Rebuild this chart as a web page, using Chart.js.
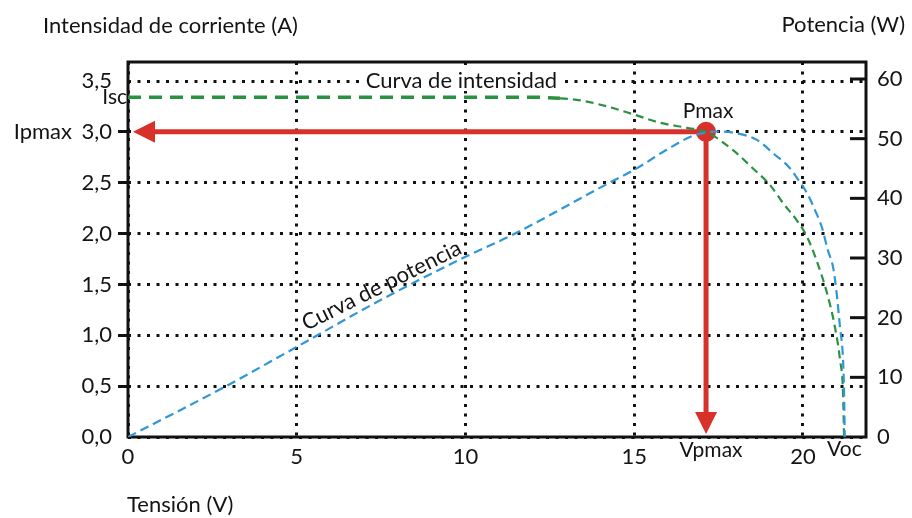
<!DOCTYPE html>
<html><head><meta charset="utf-8">
<script src="https://cdn.jsdelivr.net/npm/chart.js@4.4.1/dist/chart.umd.min.js"></script>
<style>html,body{margin:0;padding:0;background:#fff;}#wrap{width:912px;height:518px;}</style>
</head><body><div id="wrap"><canvas id="c" width="912" height="518"></canvas></div>
<script>
// ---- data ----
const V_CURRENT = [0, 2, 4, 6, 8, 10, 12, 12.8, 13.4, 14.2, 15, 15.76, 16.56, 17.13, 17.93, 18.52, 19.02, 19.41, 19.82, 20.12, 20.4, 20.71, 20.95, 21.1, 21.19, 21.22];
const I_CURRENT = [3.34, 3.34, 3.34, 3.34, 3.34, 3.34, 3.34, 3.33, 3.31, 3.25, 3.17, 3.09, 3.04, 3.0, 2.82, 2.64, 2.48, 2.30, 2.13, 1.97, 1.74, 1.42, 1.08, 0.76, 0.43, 0];
const V_POWER = [0, 2.8, 5, 7.5, 10, 11.4, 14.26, 15.1, 15.95, 16.8, 17.5, 18.04, 18.64, 19.11, 19.61, 19.91, 20.12, 20.36, 20.56, 20.74, 20.9, 21.0, 21.1, 21.19, 21.22, 21.24];
const P_POWER = [0, 8.2, 15.1, 23.0, 30.2, 33.9, 42.6, 45.1, 48.1, 50.6, 51.2, 50.9, 49.8, 47.6, 45.1, 42.7, 40.9, 38.0, 35.2, 31.3, 28.3, 24.1, 18.4, 12.9, 7.4, 0];
const PMAX = [17.13, 3.0];      // Vpmax, Ipmax
const ISC = 3.34;
const VOC = 21.2;
const X_TICKS = [0, 5, 10, 15, 20];
const Y_TICK_STEP = 0.5;
const Y1_TICK_STEP = 10;
const LABELS = {
  yTitle: 'Intensidad de corriente (A)',
  y1Title: 'Potencia (W)',
  xTitle: 'Tensión (V)',
  iCurve: 'Curva de intensidad',
  pCurve: 'Curva de potencia',
  pmax: 'Pmax', ipmax: 'Ipmax', isc: 'Isc', vpmax: 'Vpmax', voc: 'Voc'
};

const GREEN = '#2b9142', BLUE = '#2f97d6', RED = '#d8302a', INK = '#141414';
const FONT = 'Lato, "Open Sans", sans-serif';
const fnt = (s, w) => (w || 'normal') + ' ' + s + 'px ' + FONT;

const annot = {
  id: 'annot',
  beforeDatasetsDraw(chart) {
    const {ctx, chartArea: a, scales: {x, y, y1}} = chart;
    ctx.save();
    // frame
    ctx.strokeStyle = '#111'; ctx.lineWidth = 3;
    ctx.strokeRect(a.left, a.top, a.right - a.left, a.bottom - a.top);
    // inward ticks on right axis
    y1.ticks.forEach(t => {
      if (t.value === 0) return;
      const py = y1.getPixelForValue(t.value);
      ctx.beginPath(); ctx.moveTo(a.right - 16, py); ctx.lineTo(a.right, py); ctx.stroke();
    });
    // red arrows
    const px = x.getPixelForValue(PMAX[0]), py = y.getPixelForValue(PMAX[1]);
    const x0 = x.getPixelForValue(0), y0 = y.getPixelForValue(0);
    ctx.strokeStyle = RED; ctx.fillStyle = RED; ctx.lineWidth = 5;
    const head = 22, half = 11;
    const tipX = x0 + 5;
    ctx.beginPath(); ctx.moveTo(px, py); ctx.lineTo(tipX + head - 2, py); ctx.stroke();
    ctx.beginPath(); ctx.moveTo(tipX, py); ctx.lineTo(tipX + head, py - half); ctx.lineTo(tipX + head, py + half); ctx.closePath(); ctx.fill();
    const tipY = y0 - 3;
    ctx.beginPath(); ctx.moveTo(px, py); ctx.lineTo(px, tipY - head + 2); ctx.stroke();
    ctx.beginPath(); ctx.moveTo(px, tipY); ctx.lineTo(px - half, tipY - head); ctx.lineTo(px + half, tipY - head); ctx.closePath(); ctx.fill();
    ctx.restore();
  },
  afterDatasetsDraw(chart) {
    const {ctx, scales: {x, y, y1}} = chart;
    ctx.save();
    ctx.fillStyle = INK;
    // Curva de intensidad (white background over gridline)
    ctx.font = fnt(22);
    const cx = x.getPixelForValue(9.88), cy = y.getPixelForValue(3.5);
    const w = ctx.measureText(LABELS.iCurve).width;
    ctx.fillStyle = '#fff'; ctx.fillRect(cx - w / 2 - 4, cy - 10, w + 8, 20);
    ctx.fillStyle = INK; ctx.textAlign = 'center'; ctx.textBaseline = 'middle';
    ctx.fillText(LABELS.iCurve, cx, cy);
    // Curva de potencia (rotated)
    const rx = x.getPixelForValue(7.61), ry = y1.getPixelForValue(24.3);
    ctx.save(); ctx.translate(rx, ry); ctx.rotate(-26.5 * Math.PI / 180);
    ctx.textBaseline = 'alphabetic'; ctx.fillText(LABELS.pCurve, 0, 0); ctx.restore();
    // Pmax
    const px = x.getPixelForValue(PMAX[0]), py = y.getPixelForValue(PMAX[1]);
    const x0 = x.getPixelForValue(0), y0 = y.getPixelForValue(0);
    ctx.font = fnt(21); ctx.textAlign = 'center'; ctx.textBaseline = 'alphabetic';
    ctx.fillText(LABELS.pmax, px + 2, py - 14);
    // left labels
    ctx.font = fnt(22); ctx.textAlign = 'right'; ctx.textBaseline = 'middle';
    ctx.fillText(LABELS.ipmax, x0 - 56, py);
    ctx.font = fnt(21);
    ctx.fillText(LABELS.isc, x0 - 1, y.getPixelForValue(ISC));
    // bottom labels
    ctx.textAlign = 'center';
    ctx.fillText(LABELS.vpmax, px + 5, y0 + 13);
    ctx.fillText(LABELS.voc, x.getPixelForValue(VOC) + 1, y0 + 12);
    ctx.restore();
  },
  afterDraw(chart) {
    const {ctx} = chart;
    ctx.save(); ctx.fillStyle = INK; ctx.font = fnt(22); ctx.textBaseline = 'alphabetic';
    ctx.textAlign = 'left'; ctx.fillText(LABELS.yTitle, 43, 33);
    ctx.textAlign = 'right'; ctx.fillText(LABELS.y1Title, 905, 32);
    ctx.textAlign = 'left'; ctx.textBaseline = 'middle'; ctx.fillText(LABELS.xTitle, 127, 505);
    ctx.restore();
  }
};

const currentPts = V_CURRENT.map((v, i) => ({x: v, y: I_CURRENT[i]}));
const powerPts = V_POWER.map((v, i) => ({x: v, y: P_POWER[i]}));
const dash = [3, 6.5];
const comma = v => v.toFixed(1).replace('.', ',');

new Chart(document.getElementById('c'), {
  type: 'line',
  data: {
    datasets: [
      {
        data: currentPts, yAxisID: 'y', borderColor: GREEN, borderWidth: 2.2,
        borderDash: [8, 5], pointRadius: 0, cubicInterpolationMode: 'monotone', order: 2,
        segment: {
          borderWidth: c => V_CURRENT[c.p0DataIndex] < 12.5 ? 3.5 : 2.2,
          borderDash: c => V_CURRENT[c.p0DataIndex] < 12.5 ? [13, 8] : [8, 5]
        }
      },
      {
        data: powerPts, yAxisID: 'y1', borderColor: BLUE, borderWidth: 2.2,
        borderDash: [9, 5], pointRadius: 0, cubicInterpolationMode: 'monotone', order: 1
      },
      {
        data: [{x: PMAX[0], y: PMAX[1]}], yAxisID: 'y', showLine: false,
        pointRadius: 10, pointBackgroundColor: RED, pointBorderColor: RED, pointBorderWidth: 0, order: 10
      }
    ]
  },
  options: {
    responsive: false, animation: false, devicePixelRatio: 1,
    layout: {padding: {top: 62, left: 0, right: 0, bottom: 0}},
    plugins: {legend: {display: false}, tooltip: {enabled: false}},
    scales: {
      x: {
        type: 'linear', min: 0, max: 21.87,
        afterBuildTicks: s => { s.ticks = X_TICKS.map(v => ({value: v})); },
        afterFit: s => { s.height = 81; s.paddingLeft = 0; s.paddingRight = 0; },
        ticks: {includeBounds: false, padding: 7, color: INK, font: {family: FONT, size: 22}, maxRotation: 0, autoSkip: false},
        grid: {color: '#111', lineWidth: 3, drawTicks: false},
        border: {display: false, dash: dash}
      },
      y: {
        type: 'linear', position: 'left', min: 0, max: 3.687,
        afterFit: s => { s.width = 128; s.paddingTop = 0; s.paddingBottom = 0; },
        ticks: {stepSize: Y_TICK_STEP, includeBounds: false, padding: 6, color: INK, font: {family: FONT, size: 22}, callback: comma},
        grid: {color: '#111', lineWidth: 3, drawTicks: true, tickLength: 10, tickWidth: 3,
          tickColor: c => (c.tick && c.tick.value > 0.2 && c.tick.value < 3.2) ? '#111' : 'rgba(0,0,0,0)'},
        border: {display: false, dash: dash}
      },
      y1: {
        type: 'linear', position: 'right', min: 0, max: 62.85,
        afterFit: s => { s.width = 46; s.paddingTop = 0; s.paddingBottom = 0; },
        ticks: {stepSize: Y1_TICK_STEP, includeBounds: false, padding: 11, color: INK, font: {family: FONT, size: 22}},
        grid: {display: false, drawOnChartArea: false, drawTicks: false},
        border: {display: false}
      }
    }
  },
  plugins: [annot]
});
</script></body></html>
